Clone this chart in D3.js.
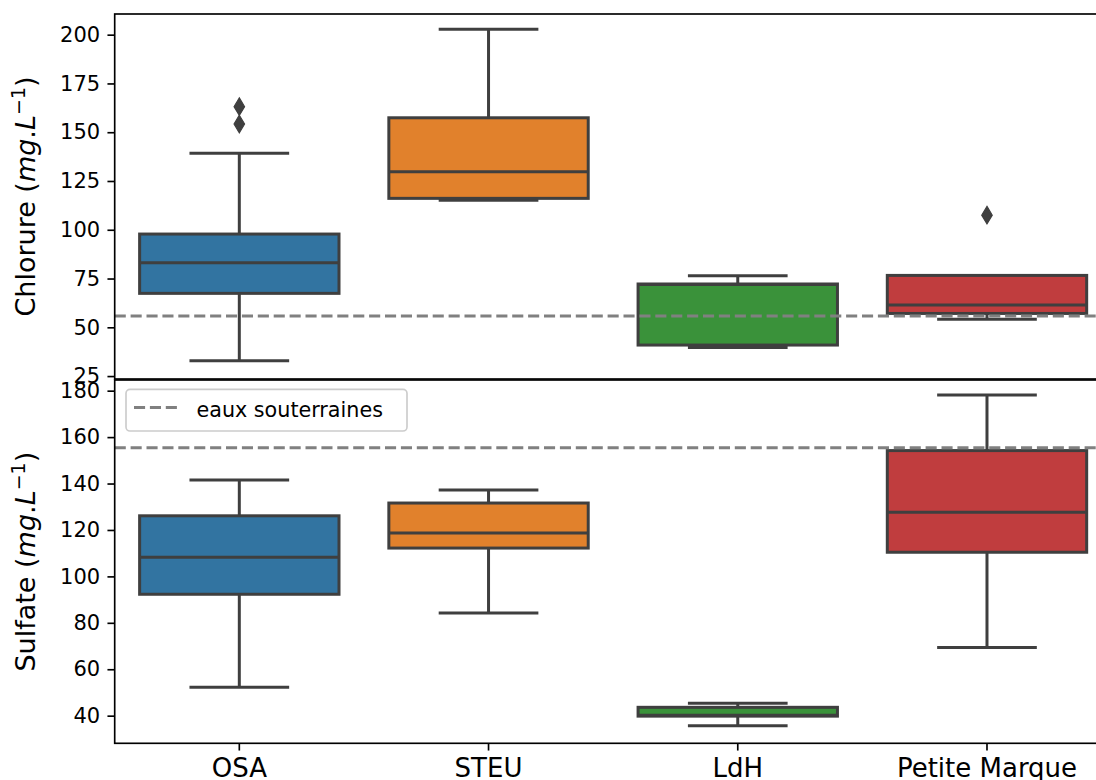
<!DOCTYPE html>
<html><head><meta charset="utf-8">
<script src="https://cdn.jsdelivr.net/npm/d3@7"></script>
<style>
body{margin:0;background:#fff}
svg{display:block}
text{font-family:"DejaVu Sans",sans-serif;fill:#000}
</style>
</head><body>
<svg id="c" width="1096" height="780"></svg>
<script>
const categories = ["OSA", "STEU", "LdH", "Petite Marque"];
const colors = ["#3274a1", "#e1812c", "#3a923a", "#c03d3e"];
// [lower whisker, Q1, median, Q3, upper whisker]
const chlorureStats = [
  [32.8, 67.4, 83.1, 97.8, 139.2],
  [115.1, 116.1, 129.8, 157.4, 202.8],
  [39.7, 40.9, 72.0, 72.2, 76.4],
  [54.1, 57.1, 61.4, 76.6, 76.6]
];
const chlorureOutliers = [[154.2, 163.1], [], [], [107.5]];
const chlorureRef = 55.8;
const chlorureTicks = [25, 50, 75, 100, 125, 150, 175, 200];
const chlorureDomain = [23.5, 210.6];

const sulfateStats = [
  [52.2, 92.3, 108.2, 126.1, 141.5],
  [84.2, 112.2, 118.7, 131.6, 137.2],
  [35.7, 39.8, 40.2, 43.6, 45.3],
  [69.4, 110.4, 127.6, 154.2, 178.1]
];
const sulfateOutliers = [[], [], [], []];
const sulfateRef = 155.4;
const sulfateTicks = [40, 60, 80, 100, 120, 140, 160, 180];
const sulfateDomain = [28.1, 184.6];
const legendLabel = "eaux souterraines";

const svg = d3.select("#c");
svg.append("rect").attr("width", 1096).attr("height", 780).attr("fill", "#fff");

const left = 114.7, right = 1111.6;
const x = d3.scaleBand().domain(categories).range([left, right]).paddingInner(0).paddingOuter(0);
const bw = x.bandwidth();
const boxW = bw * 0.8, capW = boxW / 2;
const lineCol = "#3f3f3f";
const tickLen = 7.25, tickPad = 7.25;

let clipId = 0;
function panel(opts) {
  const y = d3.scaleLinear().domain(opts.domain).range([opts.bottom, opts.top]);
  const g = svg.append("g");
  const id = "clip" + (clipId++);
  g.append("clipPath").attr("id", id).append("rect")
    .attr("x", left).attr("y", opts.top).attr("width", right - left).attr("height", opts.bottom - opts.top);
  const plot = g.append("g").attr("clip-path", `url(#${id})`);

  categories.forEach((c, i) => {
    const s = opts.stats[i];
    const cx = x(c) + bw / 2;
    const gg = plot.append("g");
    gg.append("line").attr("x1", cx).attr("x2", cx).attr("y1", y(s[1])).attr("y2", y(s[0]))
      .attr("stroke", lineCol).attr("stroke-width", 3);
    gg.append("line").attr("x1", cx).attr("x2", cx).attr("y1", y(s[3])).attr("y2", y(s[4]))
      .attr("stroke", lineCol).attr("stroke-width", 3);
    [s[0], s[4]].forEach(v => {
      gg.append("line").attr("x1", cx - capW / 2).attr("x2", cx + capW / 2).attr("y1", y(v)).attr("y2", y(v))
        .attr("stroke", lineCol).attr("stroke-width", 3);
    });
    gg.append("rect").attr("x", cx - boxW / 2).attr("width", boxW)
      .attr("y", y(s[3])).attr("height", y(s[1]) - y(s[3]))
      .attr("fill", colors[i]).attr("stroke", lineCol).attr("stroke-width", 3);
    gg.append("line").attr("x1", cx - boxW / 2).attr("x2", cx + boxW / 2).attr("y1", y(s[2])).attr("y2", y(s[2]))
      .attr("stroke", lineCol).attr("stroke-width", 3);
    const h = 8.75, w = 5.25;
    opts.outliers[i].forEach(v => {
      const py = y(v);
      gg.append("path").attr("d", `M${cx},${py - h}L${cx + w},${py}L${cx},${py + h}L${cx - w},${py}Z`)
        .attr("fill", lineCol).attr("stroke", lineCol).attr("stroke-width", 1.2);
    });
  });

  plot.append("line").attr("x1", left).attr("x2", right).attr("y1", y(opts.ref)).attr("y2", y(opts.ref))
    .attr("stroke", "#808080").attr("stroke-width", 3).attr("stroke-dasharray", "11.1,4.8");

  g.append("rect").attr("x", left).attr("y", opts.top).attr("width", right - left).attr("height", opts.bottom - opts.top)
    .attr("fill", "none").attr("stroke", "#000").attr("stroke-width", 1.66);

  const yAxis = d3.axisLeft(y).tickValues(opts.ticks).tickSize(tickLen).tickPadding(tickPad).tickFormat(d3.format("d"));
  const ya = g.append("g").attr("transform", `translate(${left},0)`).call(yAxis);
  ya.select(".domain").remove();
  ya.selectAll(".tick line").attr("stroke", "#000").attr("stroke-width", 1.66);
  ya.selectAll(".tick text").attr("font-size", 21).attr("font-family", "DejaVu Sans").attr("fill", "#000");

  const yc = (opts.top + opts.bottom) / 2;
  const lab = g.append("text").attr("transform", `translate(35,${yc}) rotate(-90)`)
    .attr("text-anchor", "middle").attr("font-size", 27);
  lab.append("tspan").text(opts.label + " (");
  lab.append("tspan").attr("font-style", "italic").text("mg");
  lab.append("tspan").text(".");
  lab.append("tspan").attr("font-style", "italic").text("L");
  lab.append("tspan").attr("font-size", 19).attr("dy", -10.5).text("\u22121");
  lab.append("tspan").attr("dy", 10.5).text(")");

  if (opts.showX) {
    const xAxis = d3.axisBottom(x).tickSize(tickLen).tickPadding(tickPad);
    const xa = g.append("g").attr("transform", `translate(0,${opts.bottom})`).call(xAxis);
    xa.select(".domain").remove();
    xa.selectAll(".tick line").attr("stroke", "#000").attr("stroke-width", 1.66);
    xa.selectAll(".tick text").attr("font-size", 26).attr("font-family", "DejaVu Sans").attr("fill", "#000")
      .attr("dy", null).attr("y", 777 - opts.bottom);
  }

  if (opts.showLegend) {
    const lg = g.append("g");
    lg.append("rect").attr("x", 126).attr("y", 389.3).attr("width", 281).attr("height", 41.7).attr("rx", 4)
      .attr("fill", "#fff").attr("fill-opacity", 0.8).attr("stroke", "#cccccc").attr("stroke-width", 1.66);
    lg.append("line").attr("x1", 134).attr("x2", 178).attr("y1", 407.5).attr("y2", 407.5)
      .attr("stroke", "#808080").attr("stroke-width", 3).attr("stroke-dasharray", "11.1,4.8");
    lg.append("text").attr("x", 196.5).attr("y", 416.5).attr("font-size", 20.7).text(legendLabel);
  }
}

panel({stats: chlorureStats, outliers: chlorureOutliers, ref: chlorureRef, ticks: chlorureTicks,
  domain: chlorureDomain, top: 14, bottom: 379, label: "Chlorure", showX: false, showLegend: false});
panel({stats: sulfateStats, outliers: sulfateOutliers, ref: sulfateRef, ticks: sulfateTicks,
  domain: sulfateDomain, top: 380, bottom: 743.3, label: "Sulfate", showX: true, showLegend: true});
</script>
</body></html>
